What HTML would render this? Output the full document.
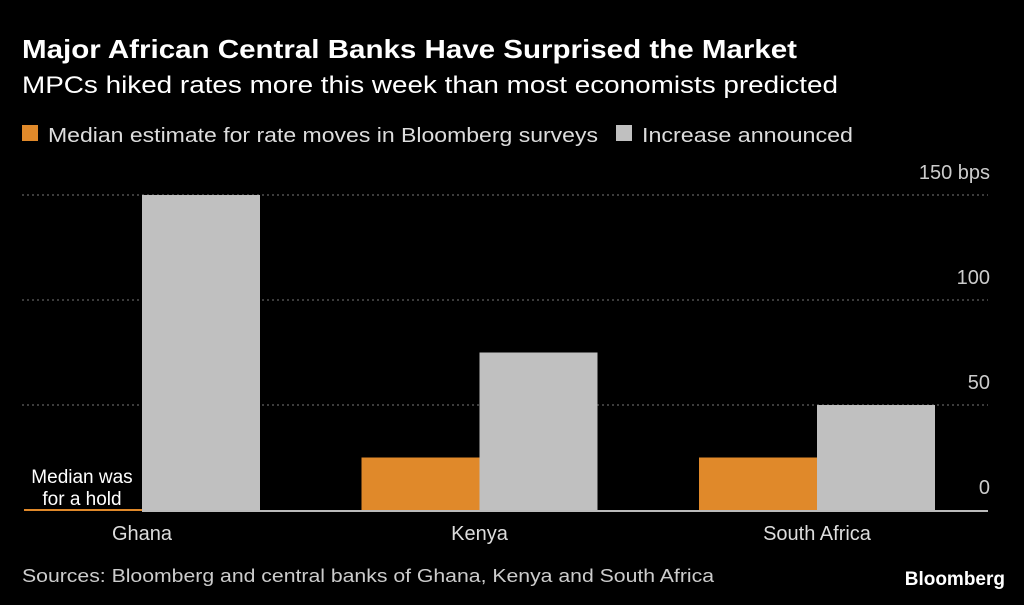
<!DOCTYPE html>
<html><head><meta charset="utf-8"><style>
html,body{margin:0;padding:0;background:#000;width:1024px;height:605px;overflow:hidden}
text{font-family:"Liberation Sans",sans-serif}
</style></head><body>
<svg id="chart" width="1024" height="605" xmlns="http://www.w3.org/2000/svg">
<rect width="1024" height="605" fill="#000"/>
<text x="22" y="58" fill="#fff" font-size="26" font-weight="bold" textLength="775" lengthAdjust="spacingAndGlyphs">Major African Central Banks Have Surprised the Market</text>
<text x="22" y="93" fill="#fff" font-size="24" textLength="816" lengthAdjust="spacingAndGlyphs">MPCs hiked rates more this week than most economists predicted</text>
<g>
<rect x="22" y="125" width="16" height="16" fill="#e0892a"/>
<text x="48" y="142" fill="#ddd" font-size="20" textLength="550" lengthAdjust="spacingAndGlyphs">Median estimate for rate moves in Bloomberg surveys</text>
<rect x="616" y="125" width="16" height="16" fill="#c0c0c0"/>
<text x="642" y="142" fill="#ddd" font-size="20" textLength="211" lengthAdjust="spacingAndGlyphs">Increase announced</text>
</g>
<g id="grid"></g><g id="bars"></g><g id="labels"></g>
<text x="82" y="483" fill="#fff" font-size="19" text-anchor="middle">Median was</text>
<text x="82" y="505" fill="#fff" font-size="19" text-anchor="middle">for a hold</text>
<text x="22" y="582" fill="#ccc" font-size="18" textLength="692" lengthAdjust="spacingAndGlyphs">Sources: Bloomberg and central banks of Ghana, Kenya and South Africa</text>
<text x="1005" y="585" fill="#fff" font-size="19" font-weight="bold" text-anchor="end">Bloomberg</text>
</svg>
<script>
const categories=["Ghana","Kenya","South Africa"];
const medianValues=[0,25,25];
const increaseValues=[150,75,50];
const ticks=[0,50,100,150];
const tickLabels=["0","50","100","150 bps"];
const NS="http://www.w3.org/2000/svg";
const y0=510,yTop=195,max=150;
const y=v=>y0-(y0-yTop)*v/max;
const groupX=i=>22+i*337.5,bw=118;
function mk(t,a,p){const e=document.createElementNS(NS,t);for(const k in a)e.setAttribute(k,a[k]);document.getElementById(p).appendChild(e);return e;}
ticks.forEach((t,i)=>{
 if(t>0){const l=mk('line',{x1:22,x2:988,y1:y(t),y2:y(t),stroke:'#777','stroke-dasharray':'2,3','stroke-width':1},'grid');
 
 }
 const tx=mk('text',{x:990,y:y(t)-16,fill:'#ccc','font-size':20,'text-anchor':'end'},'labels');tx.textContent=tickLabels[i];
 
 
});
categories.forEach((c,i)=>{
 const x=groupX(i);
 const hm=Math.max(y0-y(medianValues[i]),2);
 const r1=mk('rect',{x:x+2,y:y0-hm+(medianValues[i]?0:1),width:bw,height:hm,fill:'#e0892a'},'bars');
 
 
 const r2=mk('rect',{x:x+bw+2,y:y(increaseValues[i]),width:bw,height:y0-y(increaseValues[i]),fill:'#c0c0c0'},'bars');
 
 
 const t=mk('text',{x:x+bw+2,y:540,fill:'#ddd','font-size':20,'text-anchor':'middle'},'labels');t.textContent=c;
 
 
});
const b=mk('line',{x1:142,x2:988,y1:y0+1,y2:y0+1,stroke:'#bbb','stroke-width':2},'grid');


</script>
</body></html>
